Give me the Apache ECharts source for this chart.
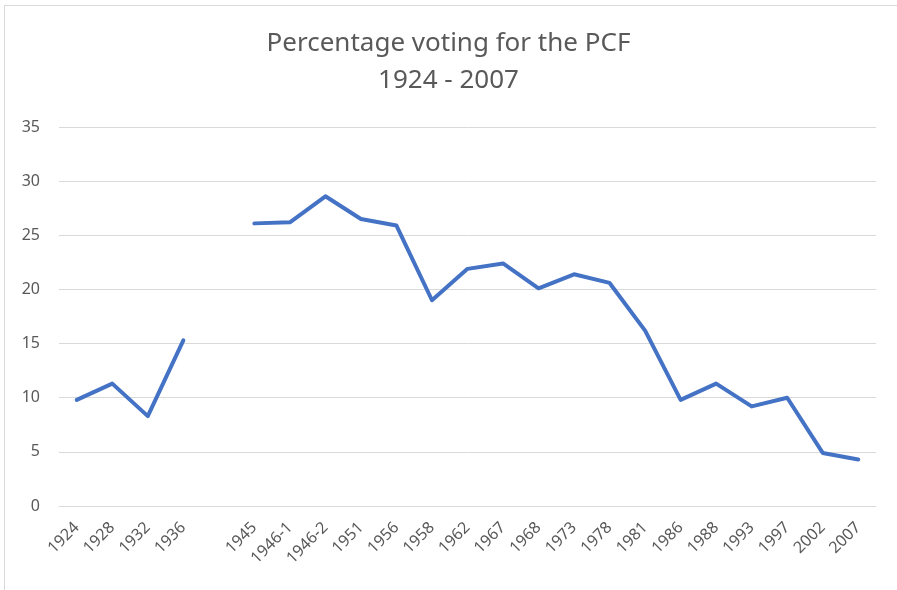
<!DOCTYPE html>
<html>
<head>
<meta charset="utf-8">
<script src="https://cdn.jsdelivr.net/npm/echarts@6/dist/echarts.min.js"></script>
<style>
    html, body { margin: 0; padding: 0; background: #fff; }
    #frame { position: absolute; left: 4px; top: 5px; width: 893px; height: 585px;
             border-top: 1px solid #d9d9d9; border-left: 1px solid #d9d9d9; }
    #chart { position: absolute; left: 0; top: 0; width: 897px; height: 590px; }
</style>
</head>
<body>
<div id="frame"></div>
<div id="chart"></div>
<script>
// election years, blank slot = gap in the series (war years)
var years = ['1924', '1928', '1932', '1936', '', '1945', '1946-1', '1946-2', '1951', '1956', '1958',
    '1962', '1967', '1968', '1973', '1978', '1981', '1986', '1988', '1993', '1997', '2002', '2007'];
var pcfVote = [9.8, 11.3, 8.3, 15.3, null, 26.1, 26.2, 28.6, 26.5, 25.9, 19.0,
    21.9, 22.4, 20.1, 21.4, 20.6, 16.2, 9.8, 11.3, 9.2, 10.0, 4.9, 4.3];
var titleLines = ['Percentage voting for the PCF', '1924 - 2007'];

var myChart = echarts.init(document.getElementById('chart'));
myChart.setOption({
    animation: false,
    title: {
        text: titleLines.join('\n'),
        left: 'center',
        top: 20,
        textStyle: {
            fontFamily: 'Noto Sans',
            fontSize: 26,
            fontWeight: 'normal',
            color: '#595959',
            lineHeight: 37
        }
    },
    grid: {left: 59, right: 21, top: 127, bottom: 84},
    xAxis: {
        type: 'category',
        data: years,
        boundaryGap: true,
        axisLine: {lineStyle: {color: '#d9d9d9'}},
        axisTick: {show: false},
        axisLabel: {
            rotate: 45,
            interval: 0,
            margin: 19,
            fontFamily: 'Noto Sans',
            fontSize: 16,
            color: '#595959'
        }
    },
    yAxis: {
        type: 'value',
        min: 0,
        max: 35,
        interval: 5,
        axisLine: {show: false},
        axisTick: {show: false},
        splitLine: {lineStyle: {color: '#d9d9d9', width: 1}},
        axisLabel: {
            margin: 19,
            fontFamily: 'Noto Sans',
            fontSize: 16,
            color: '#595959'
        }
    },
    series: [{
        name: 'PCF',
        type: 'line',
        data: pcfVote,
        connectNulls: false,
        showSymbol: false,
        lineStyle: {color: '#4472C4', width: 4, cap: 'round', join: 'round'}
    }]
});
</script>
</body>
</html>
